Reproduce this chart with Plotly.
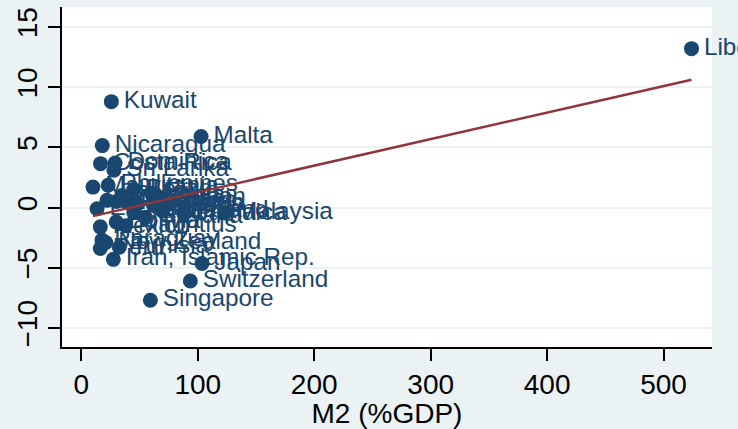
import numpy as np
import plotly.graph_objects as go

# Country observations: M2 as % of GDP (x) against the outcome variable (y)
countries = [
    "Liberia", "Kuwait", "Malta", "Nicaragua", "Costa Rica", "Dominica",
    "Sri Lanka", "Mauritania", "Philippines", "Bahamas", "Portugal",
    "Barbados", "Honduras", "Lebanon", "Cyprus", "Thailand", "Jamaica",
    "Malaysia", "Mauritius", "Guyana", "Panama", "Ecuador", "Mexico",
    "Bolivia", "Paraguay", "New Zealand", "Peru", "Tunisia",
    "Iran, Islamic Rep.", "Japan", "Switzerland", "Singapore",
    "Belize", "Fiji", "Oman", "Gabon",
]
m2_gdp = [
    524.0, 25.8, 102.8, 18.0, 16.5, 29.0,
    28.0, 10.0, 23.0, 35.0, 40.0,
    30.0, 22.0, 48.0, 62.0, 70.0, 88.0,
    123.0, 38.0, 55.0, 45.0, 13.5, 16.3,
    30.0, 17.7, 21.0, 16.3, 32.6,
    27.5, 103.6, 93.6, 59.3,
    45.0, 60.0, 35.0, 68.0,
]
y_vals = [
    13.2, 8.8, 5.9, 5.15, 3.65, 3.7,
    3.1, 1.7, 1.85, 1.0, 0.4,
    0.5, 0.6, 0.3, 0.2, -0.3, -0.5,
    -0.45, -1.5, -0.8, -0.4, -0.1, -1.6,
    -1.2, -2.7, -2.9, -3.4, -3.3,
    -4.3, -4.65, -6.1, -7.7,
    1.5, 1.2, 0.6, 0.8,
]

x_ticks = [0, 100, 200, 300, 400, 500]
y_ticks = [-10, -5, 0, 5, 10, 15]

NAVY = "#1A476F"
MAROON = "#90353B"
BG = "#EAF2F3"
FONT = "Liberation Sans, Arial, sans-serif"

# Linear fit over the observed x range
slope, intercept = np.polyfit(m2_gdp, y_vals, 1)
fit_x = np.array([min(m2_gdp), max(m2_gdp)])
fit_y = intercept + slope * fit_x

# a hair space keeps each label a little clear of its marker
labels = ["\u200a" + c for c in countries]

fig = go.Figure()
fig.add_trace(go.Scatter(
    x=m2_gdp, y=y_vals, text=labels,
    mode="markers+text", textposition="middle right",
    marker=dict(color=NAVY, size=15, line=dict(width=0)),
    textfont=dict(family=FONT, size=24.3, color=NAVY),
    cliponaxis=False,
))
fig.add_trace(go.Scatter(
    x=fit_x, y=fit_y, mode="lines",
    line=dict(color=MAROON, width=2.5),
))

fig.update_layout(
    width=738, height=429,
    margin=dict(l=62, r=26, t=7, b=82),
    paper_bgcolor=BG, plot_bgcolor="white",
    showlegend=False, hovermode=False,
    font=dict(family=FONT, color="black"),
    xaxis=dict(
        range=[-16.6, 541.6], tickvals=x_ticks,
        showgrid=False, zeroline=False,
        showline=True, linecolor="black", linewidth=1.5,
        ticks="outside", ticklen=12, tickwidth=1.5, tickcolor="black",
        tickfont=dict(size=28, family=FONT, color="black"),
        title=dict(text="M2 (%GDP)", font=dict(size=28, family=FONT, color="black"), standoff=2),
    ),
    yaxis=dict(
        range=[-11.58, 16.66], tickvals=y_ticks,
        showgrid=True, gridcolor=BG, gridwidth=1.5, zeroline=False,
        showline=True, linecolor="black", linewidth=1.5,
        ticks="outside", ticklen=12, tickwidth=1.5, tickcolor="black",
        tickangle=-90,
        tickfont=dict(size=28, family=FONT, color="black"),
    ),
)

fig.write_html("out.html")
